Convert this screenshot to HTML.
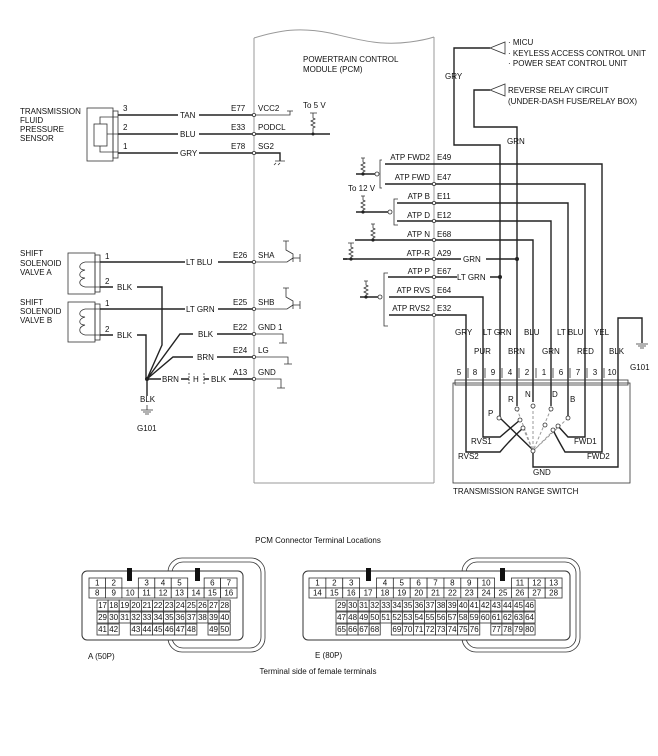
<!DOCTYPE html>
<html><head><meta charset="utf-8"><style>
html,body{margin:0;padding:0;background:#fff}
svg{display:block}
text{font-family:"Liberation Sans",Arial,sans-serif;font-size:8px;fill:#111}
.w{stroke:#222;stroke-width:1.4;fill:none}
.t{stroke:#333;stroke-width:0.8;fill:none}
.g{stroke:#999;stroke-width:1;fill:none}
.c{fill:#fff;stroke:#333;stroke-width:0.8}
</style></head><body>
<svg width="658" height="756" viewBox="0 0 658 756" xmlns="http://www.w3.org/2000/svg">
<!-- PCM box -->
<path class="g" d="M254,38 C280,30 300,27 330,33 C360,40 380,46 410,42 Q425,40 434,37" stroke-width="1.3"/>
<line class="g" x1="254" y1="483" x2="434" y2="483" stroke-width="1.6"/>
<line class="g" x1="254" y1="38" x2="254" y2="483" stroke-width="1.6"/>
<line class="g" x1="434" y1="37" x2="434" y2="483" stroke-width="1.6"/>
<text x="303" y="62">POWERTRAIN CONTROL</text>
<text x="303" y="72">MODULE (PCM)</text>

<!-- Fluid pressure sensor -->
<text x="20" y="114">TRANSMISSION</text><text x="20" y="123">FLUID</text><text x="20" y="132">PRESSURE</text><text x="20" y="141">SENSOR</text>
<rect class="t" x="87" y="108" width="26" height="53" stroke-width="1"/>
<rect class="t" x="113" y="111" width="5" height="47"/>
<rect class="t" x="94" y="124" width="13" height="22"/>
<path class="t" d="M100,124 V117 H118 M107,134 H118 M100,146 V152 H118"/>
<path class="w" d="M118,115 H178 M199,115 H254 M118,134 H178 M199,134 H330 M118,153 H178 M199,153 H280 V161"/>
<text x="123" y="111">3</text><text x="123" y="130">2</text><text x="123" y="149">1</text>
<text x="180" y="118">TAN</text><text x="180" y="137">BLU</text><text x="180" y="156">GRY</text>
<text x="231" y="111">E77</text><text x="231" y="130">E33</text><text x="231" y="149">E78</text>
<text x="258" y="111">VCC2</text><text x="258" y="130">PODCL</text><text x="258" y="149">SG2</text>
<path class="t" d="M254,115 H290 V111 M287,111 H293"/>
<text x="303" y="108">To 5 V</text>
<path class="t" d="M310,113 H317 M313,113 V118 l2,1 -4,2 4,2 -4,2 4,2 -2,1 V134"/>
<circle cx="313" cy="134" r="1.5" fill="#222"/>
<path class="t" d="M275,161 H285 M276,163 L274,165 M280,163 L278,165"/>

<!-- Solenoid A -->
<text x="20" y="256">SHIFT</text><text x="20" y="266">SOLENOID</text><text x="20" y="275">VALVE A</text>
<rect class="t" x="68" y="253" width="27" height="41" stroke-width="1"/>
<rect class="t" x="95" y="255" width="5" height="37"/>
<path class="t" d="M85,262 H100 M85,287 H100 M85,262 C78,264 78,270 85,270 C78,272 78,278 85,278 C78,280 78,285 85,287"/>
<text x="20" y="305">SHIFT</text><text x="20" y="314">SOLENOID</text><text x="20" y="323">VALVE B</text>
<rect class="t" x="68" y="302" width="27" height="40" stroke-width="1"/>
<rect class="t" x="95" y="304" width="5" height="36"/>
<path class="t" d="M85,309 H100 M85,335 H100 M85,309 C78,311 78,317 85,317 C78,319 78,325 85,325 C78,327 78,333 85,335"/>
<text x="105" y="259">1</text><text x="105" y="284">2</text><text x="105" y="306">1</text><text x="105" y="332">2</text>
<path class="w" d="M100,262 H185 M218,262 H254 M100,287 H113 M137,287 H162 V345 L147,379 M100,309 H185 M218,309 H254 M100,335 H113 M137,335 H146 V379 M147,379 L180,334 H193 M217,334 H254 M147,379 L173,357 H193 M217,357 H254 M147,379 H161 M181,379 H189 M204,379 H209 M229,379 H254 M147,379 V396"/>
<circle cx="147" cy="379" r="2" fill="#222"/>
<path class="t" d="M189,373 V385 M204,373 V385" stroke-dasharray="2,1"/>
<text x="193" y="382" font-size="7">H</text>
<text x="117" y="290">BLK</text><text x="117" y="338">BLK</text>
<text x="186" y="265">LT BLU</text><text x="186" y="312">LT GRN</text>
<text x="198" y="337">BLK</text><text x="197" y="360">BRN</text><text x="162" y="382">BRN</text><text x="211" y="382">BLK</text>
<text x="140" y="402">BLK</text>
<path class="t" d="M147,405 V410 M141,410 H153 M143,412 H151 M145,414 H149"/>
<text x="137" y="431">G101</text>
<text x="233" y="258">E26</text><text x="233" y="305">E25</text><text x="233" y="330">E22</text><text x="233" y="353">E24</text><text x="233" y="375">A13</text>
<text x="258" y="258">SHA</text><text x="258" y="305">SHB</text><text x="258" y="330">GND 1</text><text x="258" y="353">LG</text><text x="258" y="375">GND</text>
<path class="t" d="M254,262 H287 L293,258 M286,241 V250 L293,254 V262 M293,258 H300 V254 V262 M283,241 H289"/>
<path class="t" d="M254,309 H287 L293,305 M286,288 V297 L293,301 V309 M293,305 H300 V301 V309 M283,288 H289"/>
<path class="t" d="M254,334 H283 V343 M279,343 H287 M254,357 H288 V364 M284,364 H292 M254,379 H281 V388 M277,388 H285"/>

<!-- Right side upper -->
<path class="w" d="M490,48 H454 V145 H500 V343 M490,90 H474 V127 H517 V343"/>
<path class="t" d="M490,48 L505,42 V54 Z M490,90 L505,84 V96 Z"/>
<text x="508" y="45">· MICU</text><text x="508" y="56">· KEYLESS ACCESS CONTROL UNIT</text><text x="508" y="66">· POWER SEAT CONTROL UNIT</text>
<text x="508" y="93">REVERSE RELAY CIRCUIT</text><text x="508" y="104">(UNDER-DASH FUSE/RELAY BOX)</text>
<text x="445" y="79">GRY</text><text x="507" y="144">GRN</text>
<path class="w" d="M385,164 H602 V383 M385,184 H585 V383 M397,203 H568 V383 M397,221 H551 V383 M368,240 H533 V383 M343,259 H461 M486,259 H517 M388,277 H457 M490,277 H500 M389,297 H483 V383 M389,315 H466 V383 M500,343 V383 M517,343 V383"/>
<circle cx="517" cy="259" r="2" fill="#222"/><circle cx="500" cy="277" r="2" fill="#222"/>
<text x="463" y="262">GRN</text><text x="457" y="280">LT GRN</text>
<g text-anchor="end">
<text x="430" y="160">ATP FWD2</text><text x="430" y="180">ATP FWD</text><text x="430" y="199">ATP B</text><text x="430" y="218">ATP D</text><text x="430" y="237">ATP N</text><text x="430" y="256">ATP-R</text><text x="430" y="274">ATP P</text><text x="430" y="293">ATP RVS</text><text x="430" y="311">ATP RVS2</text>
</g>
<text x="437" y="160">E49</text><text x="437" y="180">E47</text><text x="437" y="199">E11</text><text x="437" y="218">E12</text><text x="437" y="237">E68</text><text x="437" y="256">A29</text><text x="437" y="274">E67</text><text x="437" y="293">E64</text><text x="437" y="311">E32</text>
<g fill="#fff">
<circle cx="434" cy="184" r="1.6" class="c"/><circle cx="434" cy="203" r="1.6" class="c"/><circle cx="434" cy="221" r="1.6" class="c"/><circle cx="434" cy="240" r="1.6" class="c"/><circle cx="434" cy="259" r="1.6" class="c"/><circle cx="434" cy="277" r="1.6" class="c"/><circle cx="434" cy="297" r="1.6" class="c"/><circle cx="434" cy="315" r="1.6" class="c"/>
<circle cx="254" cy="115" r="1.6" class="c"/><circle cx="254" cy="134" r="1.6" class="c"/><circle cx="254" cy="153" r="1.6" class="c"/><circle cx="254" cy="262" r="1.6" class="c"/><circle cx="254" cy="309" r="1.6" class="c"/><circle cx="254" cy="334" r="1.6" class="c"/><circle cx="254" cy="357" r="1.6" class="c"/><circle cx="254" cy="379" r="1.6" class="c"/>
</g>
<!-- ATP bracket symbols -->
<path class="t" d="M382,160 H380 V188 H382 M398,199 H394 V225 H398 M388,273 H384 V326 H388"/>
<path class="w" d="M356,174 H375 M356,212 H388 M368,240 H355 M347,259 H343 M360,297 H378" stroke-width="1"/>
<circle cx="377" cy="174" r="2" class="c"/><circle cx="390" cy="212" r="2" class="c"/><circle cx="380" cy="297" r="2" class="c"/>
<path class="t" d="M361,158 H365 M363,158 V162 l2,1 -4,2 4,2 -4,2 4,2 -2,1 V174 M361,196 H365 M363,196 V200 l2,1 -4,2 4,2 -4,2 4,2 -2,1 V212 M371,224 H375 M373,224 V228 l2,1 -4,2 4,2 -4,2 4,2 -2,1 V240 M348,243 H354 M351,243 V247 l2,1 -4,2 4,2 -4,2 4,2 -2,1 V259 M364,281 H368 M366,281 V285 l2,1 -4,2 4,2 -4,2 4,2 -2,1 V297"/>
<circle cx="363" cy="174" r="1.6" fill="#222"/><circle cx="363" cy="212" r="1.6" fill="#222"/><circle cx="373" cy="240" r="1.6" fill="#222"/><circle cx="351" cy="259" r="1.6" fill="#222"/><circle cx="366" cy="297" r="1.6" fill="#222"/>
<text x="348" y="191">To 12 V</text>

<!-- lower right labels -->
<text x="455" y="335">GRY</text><text x="483" y="335">LT GRN</text><text x="524" y="335">BLU</text><text x="557" y="335">LT BLU</text><text x="594" y="335">YEL</text>
<text x="474" y="354">PUR</text><text x="508" y="354">BRN</text><text x="542" y="354">GRN</text><text x="577" y="354">RED</text><text x="609" y="354">BLK</text>
<path class="w" d="M618,345 V318 H642 V343"/>
<path class="t" d="M636,344 H648 M638,346 H646 M640,348 H644"/>
<text x="630" y="370">G101</text>
<g text-anchor="middle"><text x="459" y="375">5</text><text x="475" y="375">8</text><text x="493" y="375">9</text><text x="510" y="375">4</text><text x="527" y="375">2</text><text x="544" y="375">1</text><text x="561" y="375">6</text><text x="578" y="375">7</text><text x="595" y="375">3</text><text x="612" y="375">10</text></g>
<path class="t" d="M468,368 V378 M485,368 V378 M502,368 V378 M519,368 V378 M536,368 V378 M553,368 V378 M570,368 V378 M587,368 V378 M604,368 V378"/>
<rect class="t" x="453" y="383" width="177" height="100" stroke="#888" stroke-width="1"/>
<rect class="t" x="455" y="380" width="173" height="5" stroke="#888"/>
<path class="w" d="M618,345 V467 H533 V451 M466,383 V452 H500 Q510,440 523,428 M483,383 V437 H500 L520,420 M500,383 V418 L534,451 M517,383 V406 M533,383 V402 M551,383 V406 M568,383 V418 M585,383 V437 H568 L558,426 M602,383 V452 H565 Q558,440 553,430" stroke-width="1.1"/>
<path class="g" d="M517,409 L533,451 M533,406 V451 M551,409 L533,451 M568,418 L533,451 M558,426 L533,451 M523,428 L533,451" stroke-dasharray="3,2"/>
<circle cx="499" cy="418" r="2" class="c"/><circle cx="517" cy="409" r="2" class="c"/><circle cx="533" cy="406" r="2" class="c"/><circle cx="551" cy="409" r="2" class="c"/><circle cx="568" cy="418" r="2" class="c"/><circle cx="520" cy="420" r="2" class="c"/><circle cx="523" cy="428" r="2" class="c"/><circle cx="558" cy="426" r="2" class="c"/><circle cx="553" cy="430" r="2" class="c"/><circle cx="533" cy="451" r="2" class="c"/><circle cx="545" cy="425" r="2" class="c"/>
<text x="488" y="416">P</text><text x="508" y="402">R</text><text x="525" y="397">N</text><text x="552" y="397">D</text><text x="570" y="402">B</text>
<text x="471" y="444">RVS1</text><text x="458" y="459">RVS2</text><text x="574" y="444">FWD1</text><text x="587" y="459">FWD2</text><text x="533" y="475">GND</text>
<text x="453" y="494">TRANSMISSION RANGE SWITCH</text>

<!-- connectors -->
<text x="318" y="543" text-anchor="middle" font-size="7">PCM Connector Terminal Locations</text>
<rect class="t" x="168" y="558" width="97" height="94" rx="14" stroke-width="1"/>
<rect class="t" x="172" y="562" width="89" height="86" rx="11"/>
<rect x="82" y="571" width="161" height="69" rx="5" fill="#fff" stroke="#333" stroke-width="1"/>
<rect x="462" y="558" width="118" height="94" rx="14" class="t" stroke-width="1"/>
<rect x="466" y="562" width="110" height="86" rx="11" class="t"/>
<rect x="303" y="571" width="267" height="69" rx="5" fill="#fff" stroke="#333" stroke-width="1"/>
<g id="cells" font-size="6.5"></g>
<text x="88" y="659">A (50P)</text><text x="315" y="658">E (80P)</text>
<text x="318" y="674" text-anchor="middle" font-size="7">Terminal side of female terminals</text>
<script>
(function(){
var g=document.getElementById('cells'),NS='http://www.w3.org/2000/svg';
function cell(x,y,w,h,n){var r=document.createElementNS(NS,'rect');r.setAttribute('x',x);r.setAttribute('y',y);r.setAttribute('width',w);r.setAttribute('height',h);r.setAttribute('fill','#fff');r.setAttribute('stroke','#333');r.setAttribute('stroke-width','0.8');g.appendChild(r);
var t=document.createElementNS(NS,'text');t.setAttribute('x',x+w/2);t.setAttribute('y',y+h/2+2.3);t.setAttribute('text-anchor','middle');t.setAttribute('font-size','6.5');t.textContent=n;g.appendChild(t);}
function key(x,y){var r=document.createElementNS(NS,'rect');r.setAttribute('x',x);r.setAttribute('y',y);r.setAttribute('width',5);r.setAttribute('height',13);r.setAttribute('fill','#111');g.appendChild(r);}
var w=16.45,x0=89;
var r1={0:1,1:2,3:3,4:4,5:5,7:6,8:7};
for(var k in r1)cell(x0+k*w,578,w,10,r1[k]);
for(var i=0;i<9;i++)cell(x0+i*w,588,w,10,8+i);
key(127,568);key(195,568);
var cw=11.1,cx=97;
for(i=0;i<12;i++){cell(cx+i*cw,600,cw,11,17+i);cell(cx+i*cw,612,cw,11,29+i);}
var r5=[[0,41],[1,42],[3,43],[4,44],[5,45],[6,46],[7,47],[8,48],[10,49],[11,50]];
r5.forEach(function(a){cell(cx+a[0]*cw,624,cw,11,a[1]);});
w=16.87;x0=309;
var n=1;for(i=0;i<15;i++){if(i==3||i==11)continue;cell(x0+i*w,578,w,10,n++);}
for(i=0;i<15;i++)cell(x0+i*w,588,w,10,14+i);
key(366,568);key(500,568);
cw=11.06;cx=336;
for(i=0;i<18;i++){cell(cx+i*cw,600,cw,11,29+i);cell(cx+i*cw,612,cw,11,47+i);}
n=65;for(i=0;i<18;i++){if(i==4||i==13)continue;cell(cx+i*cw,624,cw,11,n++);}
})();
</script>
</svg>
</body></html>
